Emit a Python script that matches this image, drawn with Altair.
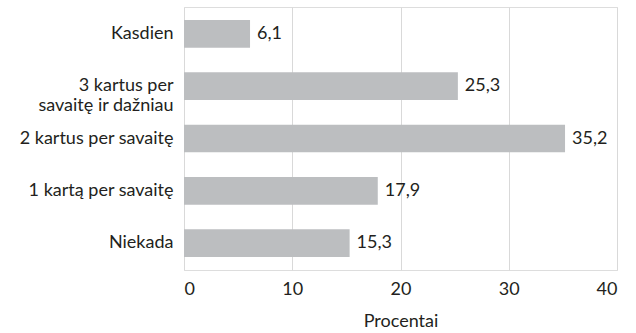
import altair as alt
import pandas as pd

categories = ["Kasdien", "3 kartus per|savaitę ir dažniau", "2 kartus per savaitę", "1 kartą per savaitę", "Niekada"]
values = [6.1, 25.3, 35.2, 17.9, 15.3]

df = pd.DataFrame({"cat": categories, "v": values})

FONT = "Lato"
TXT = "#231f20"
FS = 18

base = alt.Chart(df).encode(
    y=alt.Y("cat:N", sort=categories, title=None,
            scale=alt.Scale(paddingInner=0.47, paddingOuter=0.25),
            axis=alt.Axis(labelExpr="split(datum.label, '|')", labelFont=FONT, labelFontSize=FS,
                          labelColor=TXT, labelPadding=11, ticks=False, domain=False,
                          labelLineHeight=20, labelLimit=300)),
)

bars = base.mark_bar(color="#bcbec0").encode(
    x=alt.X("v:Q", title="Procentai", scale=alt.Scale(domain=[0, 40]),
            axis=alt.Axis(values=[0, 10, 20, 30, 40], grid=True, gridColor="#d9d9d9", gridWidth=1,
                          domain=False, ticks=False, labelFont=FONT, labelFontSize=FS, labelColor=TXT,
                          labelPadding=10, titleFont=FONT, titleFontSize=FS, titleFontWeight="normal",
                          titleColor=TXT, titlePadding=14))
)

labels = base.mark_text(align="left", baseline="middle", dx=7, font=FONT, fontSize=FS, color=TXT).transform_calculate(
    lab="replace(format(datum.v, '.1f'), '.', ',')"
).encode(x="v:Q", text="lab:N")

chart = (bars + labels).properties(
    width=433, height=263,
    autosize=alt.AutoSizeParams(type="none"),
    padding={"left": 184, "top": 7, "right": 19, "bottom": 63},
).configure_view(stroke=None).configure(background="white")

chart.save("out.html", embed_options={"renderer": "svg", "actions": False})
